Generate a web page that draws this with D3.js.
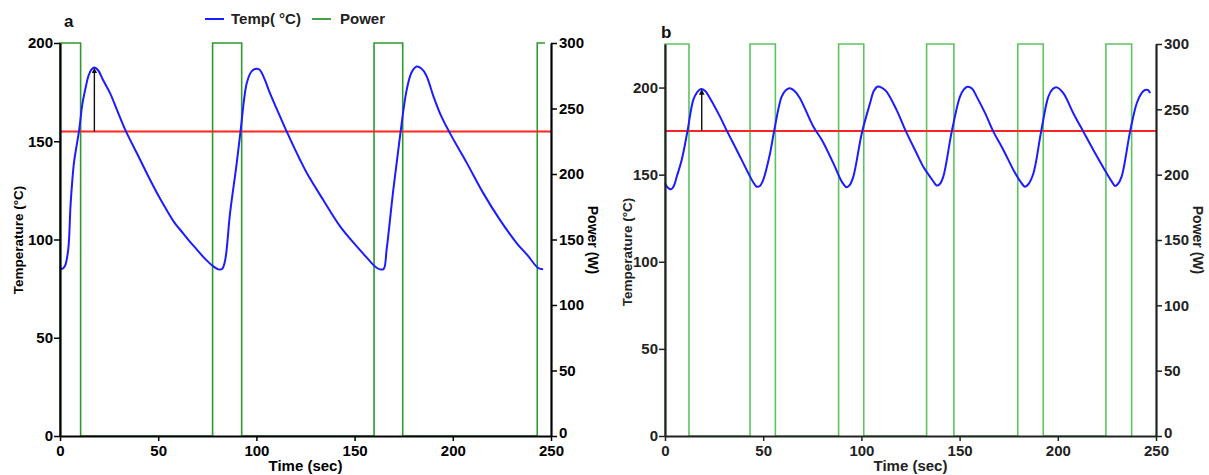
<!DOCTYPE html>
<html>
<head>
<meta charset="utf-8">
<script src="https://cdn.jsdelivr.net/npm/d3@7"></script>
<style>
	body { margin:0; background:#fff; }
	svg text { font-family:"Liberation Sans", Arial, sans-serif; }
	.tick text { font-size:15px; font-weight:bold; fill:#111; }
</style>
</head>
<body>
<script>
	// panel a: temperature trace (time in sec, temp in deg C)
	var timeA = [0, 1, 2.5, 4.2, 5.4, 7.1, 8.5, 9.8, 11.4, 13, 14.4, 16, 17.5, 19.5, 22, 25.5, 29, 33.6, 39.1, 45.8,
		50, 54.3, 58, 62.8, 66, 69.6, 74, 78.1, 80.6, 82.5, 84, 86.6, 90, 92, 95.1, 97.5, 99.3, 101.5, 104, 106.9,
		111, 115.4, 122.2, 125.6, 134.1, 142.6, 151.1, 156, 160.4, 162.9, 164.8, 166.3, 169.7, 173.1, 176.5, 179, 181.6, 184, 186.5, 190.1,
		194, 198.6, 207.1, 215.5, 224, 232.5, 238, 243.5, 246];
	var tempA = [86, 85, 86.5, 95, 118, 139, 148, 156, 169, 177, 183, 186.5, 187.5, 186, 181, 174.5, 166, 155, 144, 130.5,
		122.5, 115, 109, 103, 99, 95, 90, 86.3, 84.8, 85, 89, 113.5, 139, 155.8, 179.6, 185.5, 186.8, 186.5, 182, 174.5,
		165, 155, 140.6, 134, 120, 106.7, 96.5, 91, 86.3, 84.8, 85, 94.8, 125.3, 152.4, 176, 185, 188, 187, 183.5, 173,
		163, 154, 139, 123.6, 110, 98.2, 92, 85.5, 84.8];
	var powerOnA = [0, 77.7, 159.9, 243];
	var powerOffA = [10.5, 92.5, 174.5, 247];
	var setpointA = 155;
	var arrowA = [17.5, 155, 186];

	// panel b
	var timeB = [0, 1.5, 3.1, 4.5, 6, 8.5, 11.4, 14.4, 16.5, 18.3, 20.5, 22.9, 28, 31.7, 36.5, 41.6, 45, 46.7, 48.3, 50,
		53.5, 55.5, 59.4, 61.5, 63.6, 66, 68.7, 75.5, 79.8, 85.7, 90, 92.5, 94, 95.9, 100.2, 104.4, 106.3, 108.1, 110.5, 112.8,
		117.9, 122.2, 128.1, 131.5, 134.9, 137, 138.3, 139.8, 141.7, 146, 150.2, 152.2, 154, 156.3, 158.7, 163, 167.2, 172.3, 177.4, 181,
		183.3, 185, 187.6, 191.5, 195.2, 197.3, 199.4, 202.8, 207.9, 213, 218.1, 224.9, 227.5, 229.1, 230.5, 232.5, 236.8, 240.2, 242.5, 244.4,
		246, 247];
	var tempB = [145, 142.5, 141.6, 143.5, 148.9, 158.4, 174.7, 192.9, 197.5, 199.2, 198, 193.9, 183.3, 174.7, 164.2, 152.7, 145.5, 143.1, 143.5, 147,
		162.3, 174.7, 194.8, 198.5, 199.6, 198, 193.9, 177.6, 170, 156.6, 146, 142.8, 144, 148.9, 173.8, 191, 198, 200.5, 199.8, 197.7,
		187.2, 176, 162.3, 154.6, 148.9, 145.5, 143.8, 144.5, 148.9, 174.7, 194.8, 199, 200.5, 199.5, 194.8, 185.3, 174.7, 164.2, 152.7, 146,
		143.1, 144.5, 150.8, 174.7, 194.8, 199, 200.1, 196.8, 185.3, 174.7, 164.2, 150.8, 146, 143.5, 144.5, 148.9, 174.7, 191, 196.5, 198.6,
		198.5, 196.8];
	var powerOnB = [0, 43.3, 88.4, 133.2, 179.6, 224.5];
	var powerOffB = [12.2, 56.2, 101.2, 147.1, 192.6, 237.6];
	var setpointB = 175;
	var arrowB = [18.7, 175, 197.5];

	var timeTicks = [0, 50, 100, 150, 200, 250];
	var tempTicks = [0, 50, 100, 150, 200];
	var powerTicks = [0, 50, 100, 150, 200, 250, 300];
	var powerMax = 300;

	var svg = d3.select("body").append("svg").attr("width", 1209).attr("height", 475);

	svg.append("defs").append("marker")
		.attr("id", "arrowhead").attr("viewBox", "0 0 10 10")
		.attr("refX", 5).attr("refY", 5).attr("markerWidth", 4).attr("markerHeight", 5)
		.attr("orient", "auto")
		.append("path").attr("d", "M0,0 L10,5 L0,10 z").attr("fill", "#111");

	function drawPanel(p) {
		var x = d3.scaleLinear().domain([0, 250]).range([p.left, p.right]);
		var yT = d3.scaleLinear().domain([0, p.tempMax]).range([p.bottom, p.top]);
		var yP = d3.scaleLinear().domain([0, powerMax]).range([p.bottom, p.top]);
		var g = svg.append("g");

		// power trace (square wave)
		var pts = [];
		p.on.forEach(function(s, i) {
			pts.push([s, 0], [s, powerMax], [p.off[i], powerMax], [p.off[i], 0]);
		});
		if (p.last) pts.pop();   // last pulse still on at the end of the run
		g.append("path").datum(pts)
			.attr("fill", "none").attr("stroke", p.green).attr("stroke-width", 1.6)
			.attr("d", d3.line().x(function(d) { return x(d[0]); }).y(function(d) { return yP(d[1]); }));

		// setpoint
		g.append("line")
			.attr("x1", x(0)).attr("x2", x(250))
			.attr("y1", yT(p.setpoint)).attr("y2", yT(p.setpoint))
			.attr("stroke", "#ff2424").attr("stroke-width", 2);

		// temperature
		var temp = p.time.map(function(t, i) { return [t, p.temp[i]]; });
		g.append("path").datum(temp)
			.attr("fill", "none").attr("stroke", "#1c1cff").attr("stroke-width", 2)
			.attr("d", d3.line().curve(d3.curveCatmullRom).x(function(d) { return x(d[0]); }).y(function(d) { return yT(d[1]); }));

		// overshoot arrow
		g.append("line")
			.attr("x1", x(p.arrow[0])).attr("x2", x(p.arrow[0]))
			.attr("y1", yT(p.arrow[1])).attr("y2", yT(p.arrow[2]))
			.attr("stroke", "#111").attr("stroke-width", 1.4)
			.attr("marker-end", "url(#arrowhead)");

		// axes
		var ax = g.append("g").attr("transform", "translate(0," + p.bottom + ")")
			.call(d3.axisBottom(x).tickValues(timeTicks).tickSize(5).tickSizeOuter(0).tickPadding(4));
		var al = g.append("g").attr("transform", "translate(" + p.left + ",0)")
			.call(d3.axisLeft(yT).tickValues(tempTicks).tickSize(6).tickSizeOuter(0).tickPadding(1));
		var ar = g.append("g").attr("transform", "translate(" + p.right + ",0)")
			.call(d3.axisRight(yP).tickValues(powerTicks).tickSize(6).tickSizeOuter(0).tickPadding(2));
		[ax, al, ar].forEach(function(a) {
			a.select(".domain").attr("stroke", p.axis).attr("stroke-width", 2.2);
			a.selectAll(".tick line").attr("stroke", p.axis).attr("stroke-width", 1.5);
			a.selectAll(".tick text").style("fill", p.axis);
		});
		// lift the right-hand zero a little so it clears the 250 label
		ar.selectAll(".tick text").filter(function(d) { return d === 0; }).attr("y", -3);

		g.append("text").attr("x", (p.left + p.right) / 2).attr("y", p.bottom + 35)
			.attr("text-anchor", "middle").style("font-size", "15px").style("font-weight", "bold")
			.style("fill", p.axis).text("Time (sec)");
		g.append("text").attr("transform", "translate(" + p.ylabX + "," + p.ylabY + ") rotate(-90)")
			.attr("text-anchor", "middle").style("font-size", "13.5px").style("font-weight", "bold")
			.style("fill", p.axis).text("Temperature (°C)");
		g.append("text").attr("transform", "translate(" + p.plabX + ",240) rotate(90)")
			.attr("text-anchor", "middle").style("font-size", "14px").style("font-weight", "bold")
			.style("fill", p.axis).text("Power (W)");
		g.append("text").attr("x", p.left + p.tagDx).attr("y", p.tagY)
			.style("font-size", "17px").style("font-weight", "bold").style("fill", "#111").text(p.tag);
	}

	drawPanel({ left:60, right:551, top:43, bottom:436, tempMax:200,
		time:timeA, temp:tempA, on:powerOnA, off:powerOffA, last:true, setpoint:setpointA, arrow:arrowA,
		green:"#2f982f", axis:"#000", ylabX:23, ylabY:240, plabX:588, tag:"a", tagDx:4, tagY:27 });
	drawPanel({ left:665, right:1156, top:44, bottom:436, tempMax:225,
		time:timeB, temp:tempB, on:powerOnB, off:powerOffB, last:false, setpoint:setpointB, arrow:arrowB,
		green:"#5fc25f", axis:"#222", ylabX:632, ylabY:252, plabX:1193, tag:"b", tagDx:-4, tagY:38 });

	// legend
	var legend = svg.append("g");
	legend.append("line").attr("x1", 205).attr("x2", 224).attr("y1", 19).attr("y2", 19)
		.attr("stroke", "#1c1cff").attr("stroke-width", 2);
	legend.append("text").attr("x", 231).attr("y", 24).style("font-size", "15px").style("font-weight", "bold")
		.style("fill", "#222").text("Temp( °C)");
	legend.append("line").attr("x1", 312).attr("x2", 331).attr("y1", 19).attr("y2", 19)
		.attr("stroke", "#2f982f").attr("stroke-width", 1.8);
	legend.append("text").attr("x", 340).attr("y", 24).style("font-size", "15px").style("font-weight", "bold")
		.style("fill", "#222").text("Power");
</script>
</body>
</html>
